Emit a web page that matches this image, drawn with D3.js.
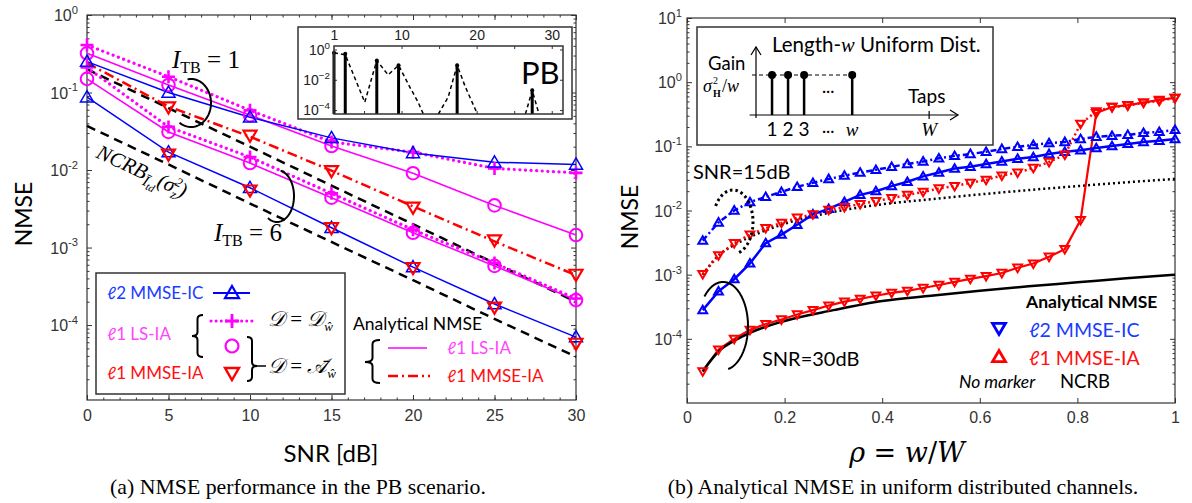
<!DOCTYPE html>
<html><head><meta charset="utf-8">
<script src="https://cdn.jsdelivr.net/npm/d3@7/dist/d3.min.js"></script>
<style>body{margin:0;background:#fff}svg{display:block}</style>
</head><body>
<svg id="c" width="1192" height="503"></svg>
<script>
// ---------------- DATA: panel (a) ----------------
const snr      = [0, 5, 10, 15, 20, 25, 30];
const icTB1    = [0.25, 0.10, 0.048, 0.026, 0.0166, 0.0126, 0.0118];
const icTB6    = [0.087, 0.017, 0.0059, 0.0018, 0.00056, 0.000187, 0.00007];
const lsDTB1   = [0.41, 0.16, 0.059, 0.023, 0.017, 0.0105, 0.0092];
const lsDTB6   = [0.21, 0.036, 0.0147, 0.005, 0.0017, 0.00063, 0.00022];
const lsATB1   = [0.32, 0.125, 0.051, 0.0204, 0.0091, 0.0035, 0.00145];
const lsATB6   = [0.15, 0.031, 0.0123, 0.0044, 0.00155, 0.00058, 0.00021];
const mmseSnr  = [5, 10, 15, 20, 25, 30];
const mmseTB1  = [0.065, 0.028, 0.0098, 0.0033, 0.00125, 0.00045];
const mmseTB6  = [0.016, 0.0055, 0.0018, 0.00055, 0.00017, 0.000058];
const mmseAnaTB1 = [0.24, 0.066, 0.027, 0.0098, 0.0034, 0.0012, 0.00044];
const ncrbTB1  = [0.2, 0.063, 0.02, 0.0063, 0.002, 0.00063, 0.0002];
const ncrbTB6  = [0.037, 0.0118, 0.0037, 0.00118, 0.00038, 0.00012, 0.000039];
const snrTicks = [0, 5, 10, 15, 20, 25, 30];
const yTicksA  = [1e-4, 1e-3, 1e-2, 1e-1, 1];
// inset PB
const pbTaps   = [1, 2.5, 6.7, 9.6, 17.4, 27.4];
const pbGain   = [0.6, 0.52, 0.19, 0.09, 0.09, 0.002];
const pbCurveX = [1, 2.5, 5.1, 6.7, 8.2, 9.6, 11.1, 12.2, 12.9, 13.9, 14.9, 16.2, 17.4, 18.5, 20.1, 23, 26.5, 27.4, 28.3];
const pbCurveY = [0.6, 0.45, 3.3e-4, 0.19, 0.021, 0.09, 0.0033, 3.3e-4, 5.5e-5, NaN, 5.5e-5, 7e-4, 0.09, 0.0033, 5.5e-5, NaN, 5.5e-5, 0.002, 5.5e-5];
const pbXLabels = [1, 10, 20, 30];
const pbXTicks  = [5, 10, 15, 20, 25, 30];
const pbYTicks  = [1, 1e-2, 1e-4];

// ---------------- DATA: panel (b) ----------------
const taps = [1,2,3,4,5,6,7,8,9,10,11,12,13,14,15,16,17,18,19,20,21,22,23,24,25,26,27,28,29,30,31];
const Wtaps = 31;
const ic15  = [0.0034, 0.0065, 0.010, 0.0135, 0.0163, 0.0195, 0.0234, 0.027, 0.031, 0.035, 0.039, 0.043, 0.048,
               0.053, 0.058, 0.065, 0.071, 0.076, 0.082, 0.091, 0.098, 0.105, 0.112, 0.117, 0.130, 0.141, 0.146, 0.151, 0.162, 0.168, 0.18];
const ic30  = [0.00028, 0.00055, 0.00085, 0.0015, 0.0031, 0.0042, 0.006, 0.0087, 0.0106, 0.0136, 0.0175, 0.020, 0.024,
               0.028, 0.034, 0.039, 0.045, 0.048, 0.053, 0.058, 0.064, 0.068, 0.076, 0.082, 0.087, 0.094, 0.101, 0.109, 0.117, 0.122, 0.13];
const red15 = [0.00102, 0.0020, 0.0031, 0.0042, 0.0053, 0.0064, 0.0077, 0.0087, 0.0102, 0.0113, 0.0126, 0.014, 0.0156,
               0.0175, 0.0195, 0.022, 0.024, 0.027, 0.030, 0.035, 0.039, 0.046, 0.057, 0.074, 0.224, 0.35, 0.41, 0.43, 0.48, 0.51, 0.57];
const red30 = [3.1e-5, 6.8e-5, 1.0e-4, 1.38e-4, 1.7e-4, 2.0e-4, 2.4e-4, 2.8e-4, 3.3e-4, 3.8e-4, 4.2e-4, 4.7e-4, 5.2e-4,
               5.6e-4, 6.2e-4, 6.9e-4, 7.7e-4, 8.6e-4, 9.5e-4, 1.06e-3, 1.28e-3, 1.49e-3, 1.9e-3, 2.5e-3,
               0.0071, 0.33, 0.41, 0.44, 0.48, 0.53, 0.57];
const ncrbRho = [0.032, 0.065, 0.1, 0.13, 0.2, 0.3, 0.4, 0.5, 0.6, 0.7, 0.8, 0.9, 1.0];
const ncrb30  = [3.1e-5, 6.4e-5, 9.6e-5, 1.25e-4, 1.9e-4, 2.8e-4, 3.9e-4, 4.7e-4, 5.6e-4, 6.6e-4, 7.6e-4, 8.8e-4, 1.0e-3];
const ncrb15  = [1.0e-3, 2.0e-3, 3.0e-3, 3.9e-3, 6.2e-3, 9.5e-3, 1.25e-2, 1.5e-2, 1.78e-2, 2.08e-2, 2.4e-2, 2.75e-2, 3.1e-2];
const rhoTicks = [0, 0.2, 0.4, 0.6, 0.8, 1];
const yTicksB  = [1e-4, 1e-3, 1e-2, 1e-1, 1, 10];
// schematic inset
const schemTaps = [1, 2, 3, 6];
const schemLabels = ['1', '2', '3', 'w'];

// ---------------- HELPERS ----------------
const svg = d3.select('#c');
svg.append('rect').attr('width',1192).attr('height',503).attr('fill','#fff');
const fSans = "Lato, 'Open Sans', sans-serif";
const fTick = "'Liberation Sans', Arial, sans-serif";
const fSerif = "'Liberation Serif', 'Times New Roman', serif";
const BLUE='#0000ff', MAG='#ff00ff', RED='#ff0000';
const TICKF = 16;

function triPath(a, up){ const h=a*0.72; return up ? `M0,${-a}L${a},${h}L${-a},${h}Z` : `M0,${a}L${a},${-h}L${-a},${-h}Z`; }
function plusPath(a){ return `M${-a},0H${a}M0,${-a}V${a}`; }
function minors(lo, hi){ const m=[]; for(let e=lo;e<hi;e++) for(let k=2;k<=9;k++) m.push(k*Math.pow(10,e)); return m; }
function styleAx(g, size){ g.attr('font-family', fTick).attr('font-size', size).attr('color','#333'); g.select('.domain').remove(); g.selectAll('line').attr('stroke-width',1); return g; }
function supLabels(g, size, minus){
  g.selectAll('.tick text').each(function(d){
    const t=d3.select(this); const e=Math.round(Math.log10(d));
    t.text(null).attr('fill','#333');
    t.append('tspan').text('10');
    t.append('tspan').attr('dy', -0.45*size).attr('font-size', size*0.7).text(String(e).replace('-', minus));
  });
}
function brace(g, tipX, armX, y0, y1, ym){
  const xm=(tipX+armX)/2, r=4;
  g.append('path').attr('fill','none').attr('stroke','#000').attr('stroke-width',2)
   .attr('d',`M${armX},${y0}Q${xm},${y0} ${xm},${y0+r}V${ym-r}Q${xm},${ym} ${tipX},${ym}Q${xm},${ym} ${xm},${ym+r}V${y1-r}Q${xm},${y1} ${armX},${y1}`);
}
function ellArc(g, cx, cy, rx, ry, a0, a1, dash){
  const pts=d3.range(0,73).map(i=>{const t=(a0+(a1-a0)*i/72)*Math.PI/180; return [cx+rx*Math.cos(t), cy+ry*Math.sin(t)];});
  g.append('path').attr('d', d3.line()(pts)).attr('fill','none').attr('stroke','#000').attr('stroke-width', dash?3:2)
   .attr('stroke-dasharray', dash||null);
}

// ================= PANEL (a) =================
const xL = d3.scaleLinear().domain([0,30]).range([87,576]);
const yL = d3.scaleLog().domain([1.08e-5,1]).range([400,15]);
const gA = svg.append('g');

styleAx(gA.append('g').attr('transform','translate(0,400)').call(d3.axisBottom(xL).tickValues(snrTicks).tickSize(-5).tickPadding(10).tickFormat(d3.format('d'))),TICKF);
styleAx(gA.append('g').attr('transform','translate(0,400)').call(d3.axisBottom(xL).tickValues(d3.range(0,31)).tickSize(-2.5).tickFormat('')),TICKF);
styleAx(gA.append('g').attr('transform','translate(0,15)').call(d3.axisTop(xL).tickValues(snrTicks).tickSize(-5).tickFormat('')),TICKF);
styleAx(gA.append('g').attr('transform','translate(0,15)').call(d3.axisTop(xL).tickValues(d3.range(0,31)).tickSize(-2.5).tickFormat('')),TICKF);
const yAxA = styleAx(gA.append('g').attr('transform','translate(87,0)').call(d3.axisLeft(yL).tickValues(yTicksA).tickSize(-5).tickPadding(9)),TICKF);
yAxA.selectAll('.tick text').attr('dy','0.35em');
supLabels(yAxA, TICKF, '-');
styleAx(gA.append('g').attr('transform','translate(87,0)').call(d3.axisLeft(yL).tickValues(minors(-5,0).filter(v=>v>1.08e-5)).tickSize(-2.5).tickFormat('')),TICKF);
styleAx(gA.append('g').attr('transform','translate(576,0)').call(d3.axisRight(yL).tickValues(yTicksA).tickSize(-5).tickFormat('')),TICKF);
styleAx(gA.append('g').attr('transform','translate(576,0)').call(d3.axisRight(yL).tickValues(minors(-5,0).filter(v=>v>1.08e-5)).tickSize(-2.5).tickFormat('')),TICKF);
gA.selectAll('.tick text').attr('fill','#333');
gA.append('rect').attr('x',87).attr('y',15).attr('width',576-87).attr('height',400-15).attr('fill','none').attr('stroke','#333').attr('stroke-width',1.2);

const lineA = (xs, ys) => d3.line().x((d,i)=>xL(xs[i])).y(d=>yL(d))(ys);
function pathA(xs, ys, color, w, dash){ gA.append('path').attr('d', lineA(xs, ys)).attr('fill','none').attr('stroke',color).attr('stroke-width',w).attr('stroke-dasharray',dash||null).attr('stroke-linecap', dash && dash.startsWith('0.1')?'round':'butt'); }
function marksA(xs, ys, kind, color){
  ys.forEach((v,i)=>{
    const x=xL(xs[i]), y=yL(v);
    if(kind==='circle') gA.append('circle').attr('cx',x).attr('cy',y).attr('r',6.3).attr('fill','none').attr('stroke',color).attr('stroke-width',2);
    else if(kind==='plus') gA.append('path').attr('transform',`translate(${x},${y})`).attr('d',plusPath(6.5)).attr('stroke',color).attr('stroke-width',2.6);
    else gA.append('path').attr('transform',`translate(${x},${y})`).attr('d',triPath(6.5, kind==='up')).attr('fill','none').attr('stroke',color).attr('stroke-width',kind==='up'?1.5:2.2);
  });
}
pathA(snr, ncrbTB1, '#000', 2.5, '9,6');
pathA(snr, ncrbTB6, '#000', 2.5, '9,6');
pathA(snr, lsATB1, MAG, 1.6);
pathA(snr, lsATB6, MAG, 1.6);
pathA(snr, mmseAnaTB1, RED, 2.5, '10,4,2,4');
pathA(snr, lsDTB1, MAG, 3.2, '0.1,5.5');
pathA(snr, lsDTB6, MAG, 3.2, '0.1,5.5');
pathA(snr, icTB1, BLUE, 1.5);
pathA(snr, icTB6, BLUE, 1.5);
marksA(snr, lsATB1, 'circle', MAG); marksA(snr, lsATB6, 'circle', MAG);
marksA(snr, lsDTB1, 'plus', MAG); marksA(snr, lsDTB6, 'plus', MAG);
marksA(snr, icTB1, 'up', BLUE); marksA(snr, icTB6, 'up', BLUE);
marksA(mmseSnr, mmseTB1, 'down', RED); marksA(mmseSnr, mmseTB6, 'down', RED);

// annotations (a)
function itb(g, x, y, val){
  const t=g.append('text').attr('x',x).attr('y',y).attr('font-family',fSerif).attr('font-size',25).attr('fill','#000');
  t.append('tspan').attr('font-style','italic').text('I');
  t.append('tspan').attr('font-size',16).attr('dy',5).text('TB');
  t.append('tspan').attr('dy',-5).text(' = '+val);
}
itb(gA, 172, 68, '1');
itb(gA, 214, 241, '6');
ellArc(gA, 191, 103, 20, 24, -100, 125);
ellArc(gA, 277, 196, 17, 26, -78, 122);
{
  const t=gA.append('text').attr('transform','translate(95,157) rotate(25)').attr('font-family',fSerif).attr('font-size',21).attr('font-style','italic');
  t.append('tspan').text('NCRB');
  t.append('tspan').attr('font-size',15).attr('dy',5).text('Ī');
  t.append('tspan').attr('font-size',11).attr('dy',3).text('td');
  t.append('tspan').attr('dy',-8).text('(σ');
  t.append('tspan').attr('font-size',13).attr('dy',5).text('z');
  t.append('tspan').attr('font-size',13).attr('dx',-6).attr('dy',-13).text('2');
  t.append('tspan').attr('dy',8).text(')');
}

// inset PB
const xI = d3.scaleLinear().domain([1,31.5]).range([334,563]);
const yI = d3.scaleLog().domain([5.5e-5,1.7]).range([114,46]);
gA.append('rect').attr('x',298).attr('y',27).attr('width',274).attr('height',92).attr('fill','#fff').attr('stroke','#333').attr('stroke-width',1.5);
const gI = gA.append('g');
styleAx(gI.append('g').attr('transform','translate(0,46)').call(d3.axisTop(xI).tickValues(pbXLabels).tickSize(0).tickPadding(6).tickFormat(d3.format('d'))),14);
styleAx(gI.append('g').attr('transform','translate(0,46)').call(d3.axisTop(xI).tickValues(pbXTicks).tickSize(-3).tickFormat('')),14);
styleAx(gI.append('g').attr('transform','translate(0,114)').call(d3.axisBottom(xI).tickValues(pbXTicks).tickSize(-3).tickFormat('')),14);
const yAxI = styleAx(gI.append('g').attr('transform','translate(334,0)').call(d3.axisLeft(yI).tickValues(pbYTicks).tickSize(-3).tickPadding(4)),14);
yAxI.selectAll('.tick text').attr('dy','0.35em');
supLabels(yAxI, 14, '−');
styleAx(gI.append('g').attr('transform','translate(563,0)').call(d3.axisRight(yI).tickValues(pbYTicks).tickSize(-3).tickFormat('')),14);
gI.selectAll('.tick text').attr('fill','#222');
gI.append('clipPath').attr('id','clipI').append('rect').attr('x',334).attr('y',46).attr('width',229).attr('height',68);
gI.append('path').attr('clip-path','url(#clipI)')
  .attr('d', d3.line().defined((d,i)=>!isNaN(pbCurveY[i])).x((d,i)=>xI(d)).y((d,i)=>yI(pbCurveY[i]))(pbCurveX))
  .attr('fill','none').attr('stroke','#000').attr('stroke-width',1.5).attr('stroke-dasharray','4,3');
pbTaps.forEach((t,i)=>{
  gI.append('line').attr('x1',xI(t)).attr('x2',xI(t)).attr('y1',114).attr('y2',yI(pbGain[i])).attr('stroke','#000').attr('stroke-width',3);
  gI.append('circle').attr('cx',xI(t)).attr('cy',yI(pbGain[i])).attr('r',2).attr('fill','#000');
});
gI.append('rect').attr('x',334).attr('y',46).attr('width',229).attr('height',68).attr('fill','none').attr('stroke','#333').attr('stroke-width',1.5);
gI.append('text').attr('x',521).attr('y',84).attr('font-family',fSans).attr('font-size',31).text('PB');

// legend (a)
const gL = gA.append('g').attr('font-family', fSans);
gL.append('rect').attr('x',96).attr('y',273).attr('width',249).attr('height',121).attr('fill','#fff').attr('stroke','#333').attr('stroke-width',1.5);
gL.append('text').attr('x',107).attr('y',299).attr('font-size',17).attr('fill','#1a3cff').text('ℓ2 MMSE-IC');
gL.append('line').attr('x1',213).attr('x2',250).attr('y1',293).attr('y2',293).attr('stroke',BLUE).attr('stroke-width',2);
gL.append('path').attr('transform','translate(232,293)').attr('d',triPath(7,true)).attr('fill','none').attr('stroke',BLUE).attr('stroke-width',2.2);
gL.append('text').attr('x',107).attr('y',340).attr('font-size',17).attr('fill','#ff44ff').text('ℓ1 LS-IA');
brace(gL, 192, 203, 315, 357, 336);
gL.append('line').attr('x1',211).attr('x2',253).attr('y1',321).attr('y2',321).attr('stroke',MAG).attr('stroke-width',3).attr('stroke-dasharray','0.1,5').attr('stroke-linecap','round');
gL.append('path').attr('transform','translate(232,321)').attr('d',plusPath(7)).attr('stroke',MAG).attr('stroke-width',2.8);
gL.append('circle').attr('cx',232).attr('cy',346).attr('r',6.5).attr('fill','none').attr('stroke',MAG).attr('stroke-width',2.2);
gL.append('text').attr('x',107).attr('y',379).attr('font-size',17).attr('fill','#ff1010').text('ℓ1 MMSE-IA');
gL.append('path').attr('transform','translate(232,373)').attr('d',triPath(7,false)).attr('fill','none').attr('stroke',RED).attr('stroke-width',2.4);
brace(gL, 257, 247, 337, 381, 366);
gL.append('line').attr('x1',257).attr('x2',266).attr('y1',366).attr('y2',366).attr('stroke','#000').attr('stroke-width',1.5);
function dEq(x, y, sym){
  const t=gL.append('text').attr('x',x).attr('y',y).attr('font-family',fSerif).attr('font-size',21).attr('font-style','italic');
  t.append('tspan').text('𝒟');
  t.append('tspan').attr('font-style','normal').text(' = ');
  t.append('tspan').text(sym);
  t.append('tspan').attr('font-size',13).attr('dy',5).text('ŵ');
}
dEq(268, 326, '𝒟');
dEq(268, 373, '𝒜̄');
gL.append('text').attr('x',353).attr('y',330).attr('font-size',17.5).attr('fill','#000').text('Analytical NMSE');
brace(gL, 365, 380, 340, 383, 362);
gL.append('line').attr('x1',388).attr('x2',427).attr('y1',348).attr('y2',348).attr('stroke',MAG).attr('stroke-width',1.6);
gL.append('text').attr('x',447).attr('y',354).attr('font-size',17).attr('fill','#ff44ff').text('ℓ1 LS-IA');
gL.append('line').attr('x1',388).attr('x2',430).attr('y1',376).attr('y2',376).attr('stroke',RED).attr('stroke-width',2.5).attr('stroke-dasharray','10,4,2,4');
gL.append('text').attr('x',447).attr('y',382).attr('font-size',17).attr('fill','#ff1010').text('ℓ1 MMSE-IA');

// axis titles (a)
gA.append('text').attr('transform','translate(32,214) rotate(-90)').attr('text-anchor','middle').attr('font-family',fSans).attr('font-size',23).text('NMSE');
gA.append('text').attr('x',331).attr('y',462).attr('text-anchor','middle').attr('font-family',fSans).attr('font-size',24).text('SNR [dB]');
gA.append('text').attr('x',298).attr('y',494).attr('text-anchor','middle').attr('font-family',fSerif).attr('font-size',21.8).text('(a) NMSE performance in the PB scenario.');

// ================= PANEL (b) =================
const xR = d3.scaleLinear().domain([0,1]).range([687,1175]);
const yR = d3.scaleLog().domain([1e-5,10]).range([403,18]);
const gB = svg.append('g');
styleAx(gB.append('g').attr('transform','translate(0,403)').call(d3.axisBottom(xR).tickValues(rhoTicks).tickSize(-5).tickPadding(9).tickFormat(d=> (d===0||d===1)?String(d):d.toFixed(1))),TICKF);
styleAx(gB.append('g').attr('transform','translate(0,18)').call(d3.axisTop(xR).tickValues(rhoTicks).tickSize(-5).tickFormat('')),TICKF);
const yAxB = styleAx(gB.append('g').attr('transform','translate(687,0)').call(d3.axisLeft(yR).tickValues(yTicksB).tickSize(-5).tickPadding(5)),TICKF);
yAxB.selectAll('.tick text').attr('dy','0.35em');
supLabels(yAxB, TICKF, '-');
styleAx(gB.append('g').attr('transform','translate(687,0)').call(d3.axisLeft(yR).tickValues(minors(-5,1)).tickSize(-2.5).tickFormat('')),TICKF);
styleAx(gB.append('g').attr('transform','translate(1175,0)').call(d3.axisRight(yR).tickValues(yTicksB).tickSize(-5).tickFormat('')),TICKF);
styleAx(gB.append('g').attr('transform','translate(1175,0)').call(d3.axisRight(yR).tickValues(minors(-5,1)).tickSize(-2.5).tickFormat('')),TICKF);
gB.selectAll('.tick text').attr('fill','#333');
gB.append('rect').attr('x',687).attr('y',18).attr('width',1175-687).attr('height',403-18).attr('fill','none').attr('stroke','#333').attr('stroke-width',1.2);

const rho = taps.map(w=>w/Wtaps);
function pathB(xs, ys, color, w, dash, curve){
  gB.append('path').attr('d', d3.line().curve(curve||d3.curveLinear).x((d,i)=>xR(xs[i])).y(d=>yR(d))(ys))
    .attr('fill','none').attr('stroke',color).attr('stroke-width',w).attr('stroke-dasharray',dash||null);
}
function marksB(ys, up, color){
  ys.forEach((v,i)=>gB.append('path').attr('transform',`translate(${xR(rho[i])},${yR(v)})`).attr('d',triPath(4.4,up)).attr('fill','none').attr('stroke',color).attr('stroke-width',2));
}
pathB(ncrbRho, ncrb15, '#000', 2.5, '2,3', d3.curveMonotoneX);
pathB(rho, red15, RED, 2.5, '2,3');
pathB(rho, ic15, BLUE, 2.5, '6,3,2,3');
pathB(rho, red30, RED, 2.2);
pathB(ncrbRho, ncrb30, '#000', 2.5, null, d3.curveMonotoneX);
pathB(rho, ic30, BLUE, 2.5);
marksB(ic15, true, BLUE); marksB(ic30, true, BLUE);
marksB(red15, false, RED); marksB(red30, false, RED);

// annotations (b)
gB.append('text').attr('x',693).attr('y',179).attr('font-family',fSans).attr('font-size',20).text('SNR=15dB');
gB.append('text').attr('x',762).attr('y',366).attr('font-family',fSans).attr('font-size',20).text('SNR=30dB');
ellArc(gB, 733, 222, 20, 32, -150, 80, '2.5,3');
ellArc(gB, 723, 326, 25, 44, -138, 78);

// inset schematic (b)
const gS = gB.append('g');
gS.append('rect').attr('x',697).attr('y',27).attr('width',296).attr('height',118).attr('fill','#fff').attr('stroke','#333').attr('stroke-width',1.5);
const xs = d3.scaleLinear().domain([0,12.6]).range([756,958]);
const baseY = 115, topY = 75;
gS.append('line').attr('x1',xs(-0.4)).attr('x2',xs(12.6)).attr('y1',baseY).attr('y2',baseY).attr('stroke','#000').attr('stroke-width',1.2);
gS.append('path').attr('d',`M${xs(12.6)-8},${baseY-5}L${xs(12.6)},${baseY}L${xs(12.6)-8},${baseY+5}`).attr('fill','none').attr('stroke','#000').attr('stroke-width',1.2);
gS.append('line').attr('x1',xs(0)).attr('x2',xs(0)).attr('y1',baseY+3).attr('y2',47).attr('stroke','#000').attr('stroke-width',1.2);
gS.append('path').attr('d',`M${xs(0)-5},${55}L${xs(0)},${47}L${xs(0)+5},${55}`).attr('fill','none').attr('stroke','#000').attr('stroke-width',1.2);
gS.append('line').attr('x1',xs(0)-4).attr('x2',xs(6)).attr('y1',topY).attr('y2',topY).attr('stroke','#000').attr('stroke-width',1).attr('stroke-dasharray','4,3');
schemTaps.forEach((t,i)=>{
  gS.append('line').attr('x1',xs(t)).attr('x2',xs(t)).attr('y1',baseY).attr('y2',topY).attr('stroke','#000').attr('stroke-width',2.5);
  gS.append('circle').attr('cx',xs(t)).attr('cy',topY).attr('r',4).attr('fill','#000');
  gS.append('text').attr('x',xs(t)).attr('y',136).attr('text-anchor','middle').attr('font-family',schemLabels[i]==='w'?fSerif:fSans)
    .attr('font-style',schemLabels[i]==='w'?'italic':'normal').attr('font-size',19).text(schemLabels[i]);
});
gS.append('text').attr('x',(xs(3)+xs(6))/2).attr('y',136).attr('text-anchor','middle').attr('font-family',fSans).attr('font-size',16).text('···');
gS.append('text').attr('x',(xs(3)+xs(6))/2).attr('y',96).attr('text-anchor','middle').attr('font-family',fSans).attr('font-size',16).text('···');
gS.append('line').attr('x1',xs(10.8)).attr('x2',xs(10.8)).attr('y1',baseY-4).attr('y2',baseY+4).attr('stroke','#000').attr('stroke-width',1.2);
gS.append('text').attr('x',xs(10.8)).attr('y',136).attr('text-anchor','middle').attr('font-family',fSerif).attr('font-style','italic').attr('font-size',19).text('W');
gS.append('text').attr('x',908).attr('y',103).attr('font-family',fSans).attr('font-size',19).text('Taps');
gS.append('text').attr('x',708).attr('y',70).attr('font-family',fSans).attr('font-size',18.5).text('Gain');
// σ²_H / w label built from separate pieces so sub/superscripts do not collide
gS.append('text').attr('x',703).attr('y',92).attr('font-family',fSerif).attr('font-size',18).attr('font-style','italic').text('σ');
gS.append('text').attr('x',713).attr('y',84).attr('font-family',fSerif).attr('font-size',10).text('2');
gS.append('text').attr('x',713).attr('y',97).attr('font-family',fSerif).attr('font-size',10).attr('font-weight','bold').text('H');
{
  const t=gS.append('text').attr('x',722).attr('y',92).attr('font-family',fSerif).attr('font-size',18);
  t.append('tspan').text('/');
  t.append('tspan').attr('font-style','italic').text('w');
}
{
  const t=gS.append('text').attr('x',772).attr('y',52).attr('font-family',fSans).attr('font-size',20.5);
  t.append('tspan').text('Length-');
  t.append('tspan').attr('font-family',fSerif).attr('font-style','italic').text('w');
  t.append('tspan').text(' Uniform Dist.');
}

// legend (b)
const gLB = gB.append('g').attr('font-family',fSans);
gLB.append('text').attr('x',1026).attr('y',308).attr('font-size',17.5).attr('font-weight','bold').text('Analytical NMSE');
gLB.append('path').attr('transform','translate(999,328)').attr('d',triPath(6.5,false)).attr('fill','none').attr('stroke',BLUE).attr('stroke-width',2.8);
gLB.append('text').attr('x',1029).attr('y',337).attr('font-size',19.5).attr('fill','#1a3cff').text('ℓ2 MMSE-IC');
gLB.append('path').attr('transform','translate(999,357)').attr('d',triPath(6.5,true)).attr('fill','none').attr('stroke',RED).attr('stroke-width',2.8);
gLB.append('text').attr('x',1029).attr('y',365).attr('font-size',19.5).attr('fill','#ff1010').text('ℓ1 MMSE-IA');
gLB.append('text').attr('x',959).attr('y',388).attr('font-size',17.5).attr('font-style','italic').text('No marker');
gLB.append('text').attr('x',1060).attr('y',388).attr('font-size',18.5).text('NCRB');

// axis titles (b)
gB.append('text').attr('transform','translate(638,217) rotate(-90)').attr('text-anchor','middle').attr('font-family',fSans).attr('font-size',23).text('NMSE');
{
  const t=gB.append('text').attr('x',907).attr('y',462).attr('text-anchor','middle').attr('font-family',"'DejaVu Serif', serif").attr('font-size',27);
  t.append('tspan').attr('font-style','italic').text('ρ');
  t.append('tspan').text(' = ');
  t.append('tspan').attr('font-style','italic').text('w');
  t.append('tspan').text('/');
  t.append('tspan').attr('font-style','italic').text('W');
}
gB.append('text').attr('x',903).attr('y',494).attr('text-anchor','middle').attr('font-family',fSerif).attr('font-size',21.8).text('(b) Analytical NMSE in uniform distributed channels.');
</script>
</body></html>
